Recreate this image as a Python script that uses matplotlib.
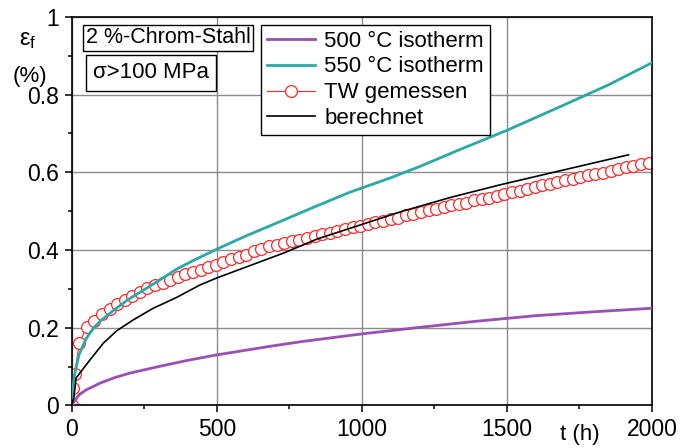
import matplotlib
matplotlib.use("Agg")
import matplotlib.pyplot as plt
from matplotlib.ticker import MultipleLocator, FixedLocator, FixedFormatter

plt.rcParams["font.family"] = ["Liberation Sans", "DejaVu Sans"]

## Colours
purple = "#9a4fb5"
teal = "#2aa9a6"
red = "#ff2a2a"

## 500 °C isotherm
t500 = [0, 10, 25, 50, 100, 150, 200, 300, 400, 500, 600, 700, 800, 1000,
        1200, 1400, 1500, 1600, 1800, 2000]
e500 = [0.0, 0.012, 0.027, 0.040, 0.058, 0.072, 0.083, 0.100, 0.116, 0.130,
        0.142, 0.154, 0.165, 0.184, 0.201, 0.217, 0.224, 0.231, 0.241, 0.250]

## 550 °C isotherm
t550 = [0, 5, 10, 25, 50, 74, 100, 150, 190, 250, 304, 360, 419, 500, 600,
        718, 840, 960, 1100, 1200, 1333, 1500, 1684, 1850, 2000]
e550 = [0.0, 0.05, 0.08, 0.13, 0.172, 0.198, 0.218, 0.248, 0.270, 0.298,
        0.323, 0.350, 0.373, 0.402, 0.436, 0.473, 0.512, 0.549, 0.586, 0.615,
        0.657, 0.708, 0.769, 0.825, 0.882]

## TW gemessen
tMeas = [0, 3, 11, 26, 52, 78, 104, 131, 157, 183, 209, 235, 261, 288, 314,
         340, 366, 392, 418, 445, 471, 497, 523, 549, 575, 602, 628, 654, 680,
         706, 732, 759, 785, 811, 837, 863, 889, 916, 942, 968, 994, 1020,
         1046, 1073, 1099, 1125, 1151, 1177, 1203, 1230, 1256, 1282, 1308,
         1334, 1360, 1387, 1413, 1439, 1465, 1491, 1517, 1544, 1570, 1596,
         1622, 1648, 1674, 1701, 1727, 1753, 1779, 1805, 1831, 1858, 1884,
         1910, 1936, 1962, 1988]
eMeas = [0.0, 0.045, 0.081, 0.161, 0.201, 0.218, 0.235, 0.249, 0.262, 0.272,
         0.281, 0.291, 0.301, 0.309, 0.316, 0.324, 0.331, 0.338, 0.344, 0.349,
         0.355, 0.361, 0.368, 0.376, 0.382, 0.388, 0.397, 0.402, 0.409, 0.414,
         0.418, 0.422, 0.427, 0.431, 0.435, 0.441, 0.445, 0.450, 0.454, 0.458,
         0.463, 0.467, 0.472, 0.475, 0.479, 0.483, 0.489, 0.493, 0.497, 0.502,
         0.506, 0.510, 0.515, 0.519, 0.522, 0.528, 0.532, 0.535, 0.540, 0.544,
         0.549, 0.553, 0.558, 0.562, 0.567, 0.571, 0.575, 0.580, 0.584, 0.589,
         0.593, 0.596, 0.599, 0.604, 0.608, 0.613, 0.616, 0.621, 0.625]

## berechnet
tCalc = [0, 8, 15, 30, 63, 109, 155, 212, 281, 362, 442, 500, 615, 730, 845,
         960, 1132, 1304, 1478, 1707, 1919]
eCalc = [0.0, 0.022, 0.070, 0.085, 0.117, 0.160, 0.192, 0.220, 0.250, 0.278,
         0.310, 0.328, 0.360, 0.392, 0.428, 0.456, 0.498, 0.535, 0.568, 0.608,
         0.645]

xTicks = [0, 500, 1000, 1500, 2000]
xTickLabels = ["0", "500", "1000", "1500", "2000"]
yTicks = [0, 0.2, 0.4, 0.6, 0.8, 1.0]
yTickLabels = ["0", "0.2", "0.4", "0.6", "0.8", "1"]

fig = plt.figure(figsize=(6.8, 4.48), dpi=100)
ax = fig.add_axes([0.1054, 0.0951, 0.9588 - 0.1054, 0.9623 - 0.0951])

ax.plot(tMeas, eMeas, color=red, linewidth=0.8, marker="o", markersize=8.5,
        markerfacecolor="white", markeredgecolor=red, markeredgewidth=0.9,
        label="TW gemessen", zorder=2)
ax.plot(t500, e500, color=purple, linewidth=2.0, label="500 °C isotherm", zorder=3)
ax.plot(t550, e550, color=teal, linewidth=2.0, label="550 °C isotherm", zorder=3)
ax.plot(tCalc, eCalc, color="black", linewidth=1.2, label="berechnet", zorder=4)

ax.set_xlim(0, 2000)
ax.set_ylim(0, 1)
ax.xaxis.set_major_locator(FixedLocator(xTicks))
ax.xaxis.set_major_formatter(FixedFormatter(xTickLabels))
ax.yaxis.set_major_locator(FixedLocator(yTicks))
ax.yaxis.set_major_formatter(FixedFormatter(yTickLabels))
ax.xaxis.set_minor_locator(MultipleLocator(250))
ax.yaxis.set_minor_locator(MultipleLocator(0.1))
ax.tick_params(which="major", direction="out", length=5, width=1.1,
               labelsize=16.5, pad=4)
ax.tick_params(which="minor", direction="out", length=3, width=1.1)
ax.grid(which="major", color="#8c8c8c", linewidth=1.0, zorder=0)
ax.set_axisbelow(True)
for s in ax.spines.values():
    s.set_linewidth(1.2)

handles, labels = ax.get_legend_handles_labels()
order = [1, 2, 0, 3]
leg = ax.legend([handles[i] for i in order], [labels[i] for i in order],
                loc="upper left", bbox_to_anchor=(261 / 680, 1 - 25 / 448),
                bbox_transform=fig.transFigure, borderaxespad=0,
                fontsize=16, frameon=True, fancybox=False, edgecolor="black",
                framealpha=1, handlelength=2.2, handletextpad=0.4,
                labelspacing=0.22, borderpad=0.25)
leg.get_frame().set_linewidth(1.0)

ax.text(0.024, 0.973, "2 %-Chrom-Stahl", transform=ax.transAxes,
        fontsize=15.5, ha="left", va="top",
        bbox=dict(boxstyle="square,pad=0.12", facecolor="white",
                  edgecolor="black", linewidth=1.0))
ax.text(0.037, 0.883, "σ>100 MPa", transform=ax.transAxes, fontsize=16,
        ha="left", va="top",
        bbox=dict(boxstyle="square,pad=0.33", facecolor="white",
                  edgecolor="black", linewidth=1.0))

fig.text(28 / 680, 1 - 40 / 448, r"$\mathregular{ε_f}$", fontsize=17,
         ha="center", va="center")
fig.text(30 / 680, 1 - 76 / 448, "(%)", fontsize=16, ha="center", va="center")
fig.text(580 / 680, 1 - 434 / 448, "t (h)", fontsize=16, ha="center",
         va="center")

fig.savefig("out.png", dpi=100)
